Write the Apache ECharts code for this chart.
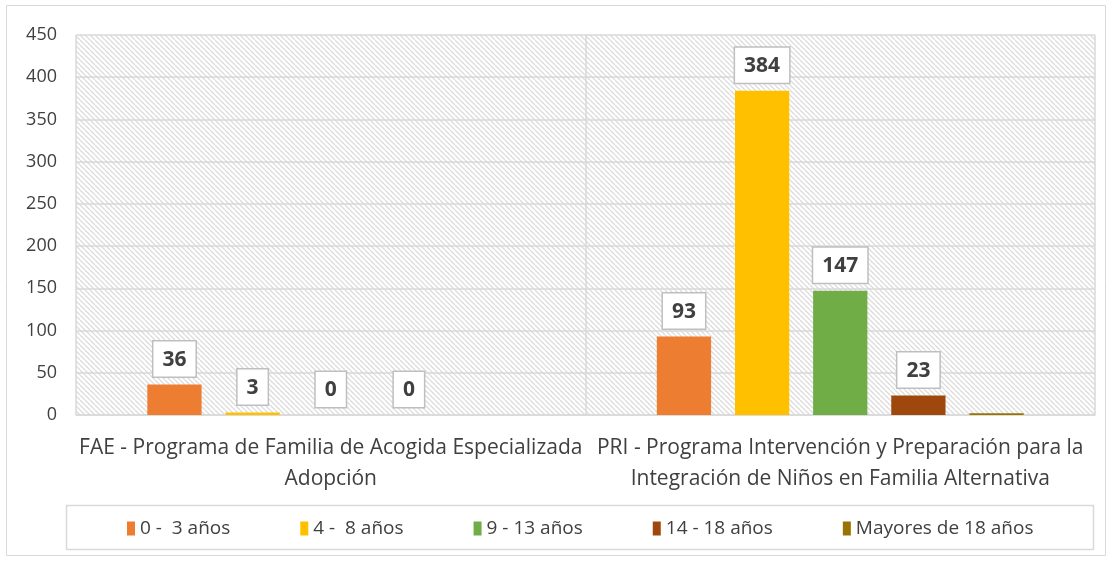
<!DOCTYPE html>
<html><head><meta charset="utf-8">
<script src="https://cdn.jsdelivr.net/npm/echarts@6/dist/echarts.min.js"></script>
<style>html,body{margin:0;padding:0;background:#fff}#c{width:1112px;height:561px}</style>
</head><body><div id="c"></div>
<script>
const categories = ['FAE - Programa de Familia de Acogida Especializada\nAdopción', 'PRI - Programa Intervención y Preparación para la\nIntegración de Niños en Familia Alternativa'];
const seriesNames = ['0 -  3 años', '4 -  8 años', '9 - 13 años', '14 - 18 años', 'Mayores de 18 años'];
const v0_3 = [36, 93];
const v4_8 = [3, 384];
const v9_13 = [0, 147];
const v14_18 = [0, 23];
const vMay = [0, 2];
const colors = ['#ED7D31', '#FFC000', '#70AD47', '#9E480E', '#997300'];
const yTicks = [0, 450, 50];

const tile = document.createElement('canvas');
tile.width = 5; tile.height = 5;
const g = tile.getContext('2d');
g.fillStyle = '#fff'; g.fillRect(0, 0, 5, 5);
g.strokeStyle = '#dcdcdc'; g.lineWidth = 1.3;
for (const k of [-5, 0, 5]) { g.beginPath(); g.moveTo(k, 0); g.lineTo(k + 5, 5); g.stroke(); }

const font = 'Open Sans, sans-serif';
const chart = echarts.init(document.getElementById('c'), null, {renderer: 'canvas'});
const label = {
  show: true, position: 'top', distance: 8,
  backgroundColor: '#fff', borderColor: '#bfbfbf', borderWidth: 1.5,
  padding: [8, 9, 6, 9], fontFamily: font, fontWeight: 'bold', fontSize: 21, color: '#404040'
};
const datas = [v0_3, v4_8, v9_13, v14_18, vMay];
chart.setOption({
  animation: false,
  textStyle: {fontFamily: font},
  graphic: [
    {type: 'rect', shape: {x: 6.5, y: 5.5, width: 1099, height: 550}, style: {fill: 'none', stroke: '#d9d9d9', lineWidth: 1}, z: -10},
    {type: 'rect', shape: {x: 66.5, y: 505.5, width: 1027, height: 44}, style: {fill: 'none', stroke: '#d9d9d9', lineWidth: 1.5}, z: -10}
  ],
  grid: {left: 76, right: 17, top: 35, bottom: 146, show: true, backgroundColor: {image: tile, repeat: 'repeat'}, borderWidth: 0},
  legend: {
    top: 514, left: 122, itemWidth: 8, itemHeight: 14, itemGap: 70, icon: 'rect',
    textStyle: {fontFamily: font, fontSize: 19, color: '#404040'},
    data: seriesNames
  },
  xAxis: {
    type: 'category', data: categories,
    axisLine: {show: true, lineStyle: {color: '#d9d9d9', width: 1.5}},
    axisTick: {show: false},
    splitLine: {show: true, lineStyle: {color: '#d9d9d9', width: 1.5}},
    axisLabel: {interval: 0, fontFamily: font, fontSize: 21, color: '#404040', lineHeight: 31, margin: 18}
  },
  yAxis: {
    type: 'value', min: yTicks[0], max: yTicks[1], interval: yTicks[2],
    axisLine: {show: false}, axisTick: {show: false},
    splitLine: {show: true, lineStyle: {color: '#d9d9d9', width: 1.5}},
    axisLabel: {fontFamily: font, fontSize: 18, color: '#404040', margin: 19}
  },
  series: datas.map((d, i) => ({
    name: seriesNames[i], type: 'bar', data: d,
    itemStyle: {color: colors[i]},
    barGap: '44%', barCategoryGap: '28%',
    label: i === 4 ? {show: false} : label
  }))
});
</script></body></html>
